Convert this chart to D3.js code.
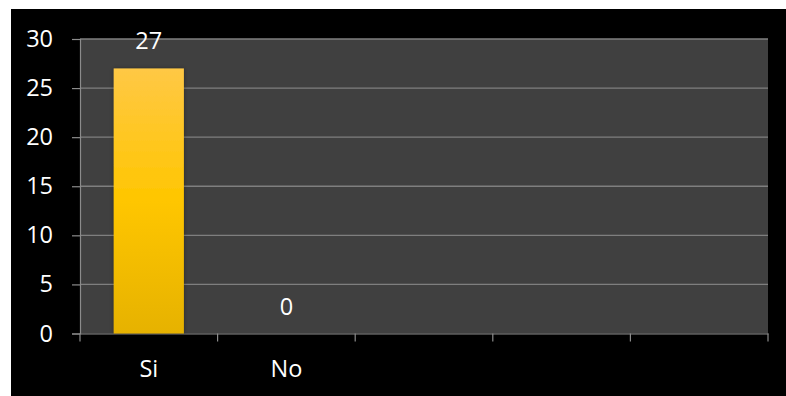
<!DOCTYPE html>
<html><head><meta charset="utf-8">
<script src="https://cdn.jsdelivr.net/npm/d3@7"></script>
<style>
html,body{margin:0;padding:0;background:#fff;}
svg{display:block;}
text{font-family:"Open Sans","Noto Sans",sans-serif;}
</style></head>
<body>
<svg id="chart" width="786" height="396"></svg>
<script>
const categories = ["Si", "No", "", " ", "  "];
const values = [27, 0, null, null, null];
const yTicks = [0, 5, 10, 15, 20, 25, 30];

const FS = 23.5;
const svg = d3.select("#chart");
svg.append("rect").attr("x", 11).attr("y", 9).attr("width", 775).attr("height", 387).attr("fill", "#000");

const m = {left: 80, right: 768, top: 39, bottom: 333.5};
const x = d3.scaleBand().domain(categories).range([m.left, m.right]).paddingInner(0).paddingOuter(0);
const y = d3.scaleLinear().domain([0, 30]).range([m.bottom, m.top]);

const defs = svg.append("defs");
const g = defs.append("linearGradient").attr("id", "barGrad").attr("x1", 0).attr("y1", 0).attr("x2", 0).attr("y2", 1);
g.append("stop").attr("offset", "0%").attr("stop-color", "#FFC845");
g.append("stop").attr("offset", "50%").attr("stop-color", "#FFC600");
g.append("stop").attr("offset", "100%").attr("stop-color", "#E6B200");
const f = defs.append("filter").attr("id", "shadow").attr("x", "-20%").attr("y", "-20%").attr("width", "140%").attr("height", "140%");
f.append("feDropShadow").attr("dx", 0).attr("dy", 0).attr("stdDeviation", 2).attr("flood-color", "#000").attr("flood-opacity", 0.35);

svg.append("rect").attr("x", m.left).attr("y", m.top).attr("width", m.right - m.left).attr("height", m.bottom - m.top).attr("fill", "#404040");

// gridlines
svg.append("g").selectAll("line").data(yTicks.filter(d => d > 0)).join("line")
  .attr("x1", m.left).attr("x2", m.right)
  .attr("y1", d => y(d)).attr("y2", d => y(d))
  .attr("stroke", "#7f7f7f").attr("stroke-width", 1.3);

// y axis
const yAxis = svg.append("g").attr("transform", `translate(${m.left},0)`)
  .call(d3.axisLeft(y).tickValues(yTicks).tickSize(8).tickPadding(19));
yAxis.select(".domain").attr("stroke", "#8c8c8c").attr("stroke-width", 1.2);
yAxis.selectAll(".tick line").attr("stroke", "#8c8c8c").attr("stroke-width", 1.2);
yAxis.selectAll(".tick text").attr("fill", "#fff").attr("font-size", FS).attr("font-family", "'Open Sans','Noto Sans',sans-serif");

// x axis
const xAxis = svg.append("g").attr("transform", `translate(0,${m.bottom})`)
  .call(d3.axisBottom(x).tickSize(0).tickPadding(26.5));
xAxis.select(".domain").attr("stroke", "#8c8c8c").attr("stroke-width", 1.2);
xAxis.selectAll(".tick text").attr("fill", "#fff").attr("font-size", FS).attr("font-family", "'Open Sans','Noto Sans',sans-serif");
// boundary tick marks
const bounds = categories.map(c => x(c)).concat([x(categories[categories.length - 1]) + x.bandwidth()]);
svg.append("g").selectAll("line").data(bounds).join("line")
  .attr("x1", d => d).attr("x2", d => d)
  .attr("y1", m.bottom).attr("y2", m.bottom + 8)
  .attr("stroke", "#8c8c8c").attr("stroke-width", 1.2);

const data = categories.map((c, i) => ({c, v: values[i]})).filter(d => d.v !== null);
const bw = x.bandwidth() * 0.51;

svg.append("g").selectAll("rect").data(data).join("rect")
  .attr("x", d => x(d.c) + x.bandwidth() / 2 - bw / 2)
  .attr("y", d => y(d.v))
  .attr("width", bw)
  .attr("height", d => y(0) - y(d.v))
  .attr("fill", "url(#barGrad)")
  .attr("filter", "url(#shadow)");

svg.append("g").selectAll("text").data(data).join("text")
  .attr("x", d => x(d.c) + x.bandwidth() / 2)
  .attr("y", d => y(d.v) - 19)
  .attr("text-anchor", "middle")
  .attr("fill", "#fff").attr("font-size", FS)
  .text(d => d.v);
</script>
</body></html>
